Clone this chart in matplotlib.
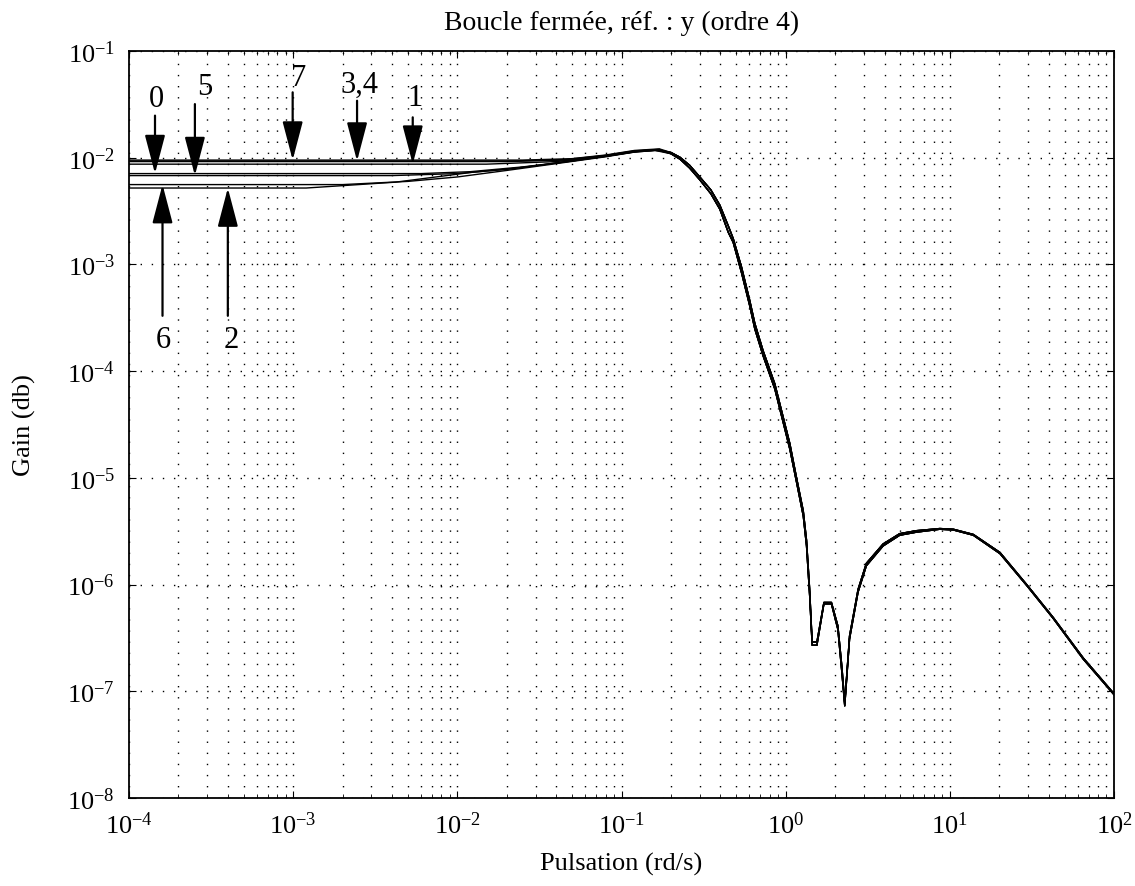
import math
import matplotlib
matplotlib.use("Agg")
import matplotlib.pyplot as plt
from matplotlib.patches import FancyArrowPatch
from matplotlib.ticker import FixedLocator, NullLocator, FuncFormatter, NullFormatter

plt.rcParams['font.family'] = ['Liberation Serif', 'DejaVu Serif']
plt.rcParams['mathtext.fontset'] = 'custom'
plt.rcParams['mathtext.rm'] = 'Liberation Serif'
plt.rcParams['mathtext.it'] = 'Liberation Serif:italic'

# ---------------- data ----------------
title = "Boucle fermée, réf. : y (ordre 4)"
xlabel = "Pulsation (rd/s)"
ylabel = "Gain (db)"
x_ticks = [1e-4, 1e-3, 1e-2, 1e-1, 1e0, 1e1, 1e2]
y_ticks = [1e-8, 1e-7, 1e-6, 1e-5, 1e-4, 1e-3, 1e-2, 1e-1]

# low-frequency part of each curve (rad/s, gain)
w_c0 = [1e-4, 0.006, 0.012, 0.025, 0.05, 0.09, 0.13, 0.17]
g_c0 = [0.0071, 0.0071, 0.0074, 0.0082, 0.0093, 0.0106, 0.0116, 0.0120]
w_c1 = [1e-4, 0.015, 0.04, 0.08, 0.12, 0.16]
g_c1 = [0.0087, 0.0087, 0.0092, 0.0103, 0.0113, 0.0117]
w_c2 = [1e-4, 0.0012, 0.0042, 0.0074, 0.0123, 0.02, 0.03, 0.05, 0.08, 0.12, 0.17]
g_c2 = [0.0052, 0.0052, 0.0059, 0.0066, 0.0073, 0.0078, 0.0084, 0.0094, 0.0105, 0.0116, 0.0119]
w_c3 = [1e-4, 0.02, 0.045, 0.08, 0.12, 0.165]
g_c3 = [0.0093, 0.0093, 0.0096, 0.0105, 0.0115, 0.0119]
w_c4 = [1e-4, 0.02, 0.045, 0.08, 0.12, 0.165]
g_c4 = [0.0092, 0.0092, 0.0095, 0.0104, 0.0114, 0.0118]
w_c5 = [1e-4, 0.004, 0.01, 0.02, 0.04, 0.08, 0.12, 0.17]
g_c5 = [0.0068, 0.0068, 0.0071, 0.0078, 0.0089, 0.0103, 0.0114, 0.0118]
w_c6 = [1e-4, 0.002, 0.005, 0.01, 0.02, 0.04, 0.08, 0.12, 0.16]
g_c6 = [0.0056, 0.0056, 0.0060, 0.0066, 0.0076, 0.0088, 0.0102, 0.0113, 0.0117]
w_c7 = [1e-4, 0.025, 0.05, 0.08, 0.12, 0.17]
g_c7 = [0.0095, 0.0095, 0.0098, 0.0106, 0.0117, 0.0121]

# common high-frequency part (two nearly superposed variants)
tail_w = [0.20, 0.227, 0.26, 0.30, 0.35, 0.397, 0.447, 0.479, 0.538, 0.604,
          0.649, 0.729, 0.859, 0.966, 1.06, 1.165, 1.28, 1.34, 1.40, 1.45,
          1.55, 1.71, 1.90, 2.08, 2.20, 2.29, 2.45, 2.76, 3.10, 3.92,
          4.95, 6.27, 8.69, 10.5, 13.9, 20.2, 29.4, 42.7, 65.0, 100.0]
tail_a = [0.0109, 0.0097, 0.0080, 0.0062, 0.0046, 0.0033, 0.0020, 0.00161, 8.4e-4, 4.1e-4,
          2.48e-4, 1.39e-4, 6.8e-5, 3.3e-5, 1.86e-5, 9.1e-6, 4.4e-6, 2.3e-6, 7.9e-7, 2.7e-7,
          2.7e-7, 6.6e-7, 6.6e-7, 3.8e-7, 1.5e-7, 7.3e-8, 3.1e-7, 8.5e-7, 1.5e-6, 2.3e-6,
          2.9e-6, 3.1e-6, 3.3e-6, 3.25e-6, 2.9e-6, 1.95e-6, 9.8e-7, 4.8e-7, 2.0e-7, 9.3e-8]
tail_b = [0.0112, 0.0101, 0.0085, 0.0066, 0.0050, 0.0036, 0.0023, 0.00175, 9.5e-4, 4.6e-4,
          2.8e-4, 1.55e-4, 7.6e-5, 3.7e-5, 2.1e-5, 1.0e-5, 4.9e-6, 2.6e-6, 9.0e-7, 2.9e-7,
          2.9e-7, 6.8e-7, 6.8e-7, 4.1e-7, 1.7e-7, 7.8e-8, 3.3e-7, 9.0e-7, 1.58e-6, 2.4e-6,
          3.0e-6, 3.2e-6, 3.35e-6, 3.3e-6, 2.95e-6, 2.0e-6, 1.0e-6, 4.9e-7, 2.05e-7, 9.5e-8]

curves = [(w_c0, g_c0, tail_a), (w_c1, g_c1, tail_b), (w_c2, g_c2, tail_a),
          (w_c3, g_c3, tail_b), (w_c4, g_c4, tail_a), (w_c5, g_c5, tail_b),
          (w_c6, g_c6, tail_a), (w_c7, g_c7, tail_b)]

# annotations: label, arrow x, arrow tail gain, arrow tip gain, text x, text y
ann_labels = ["0", "5", "7", "3,4", "1", "6", "2"]
ann_x = [1.44e-4, 2.52e-4, 9.93e-4, 2.45e-3, 5.35e-3, 1.6e-4, 4.0e-4]
ann_tail = [0.0248, 0.0318, 0.041, 0.0342, 0.0239, 3.3e-4, 3.3e-4]
ann_tip = [0.0071, 0.0068, 0.0095, 0.0093, 0.0087, 0.0056, 0.0052]
ann_tx = [1.46e-4, 2.9e-4, 1.08e-3, 2.55e-3, 5.5e-3, 1.61e-4, 4.18e-4]
ann_ty = [0.0355, 0.046, 0.057, 0.049, 0.037, 2.0e-4, 2.0e-4]

# ---------------- figure ----------------
W, H = 1135, 887
fig = plt.figure(figsize=(W / 100, H / 100), dpi=100)
ax = fig.add_axes([129 / W, 1 - 799 / H, (1114 - 129) / W, (799 - 52) / H])
ax.set_xscale('log')
ax.set_yscale('log')
ax.set_xlim(x_ticks[0], x_ticks[-1])
ax.set_ylim(y_ticks[0], y_ticks[-1])

for wl, gl, tail in curves:
    ax.plot(list(wl) + tail_w, list(gl) + tail, color='black', lw=1.0, zorder=3)

x_minor = [m * t for t in x_ticks[:-1] for m in range(2, 10)]
ax.xaxis.set_major_locator(FixedLocator(x_ticks))
ax.xaxis.set_minor_locator(FixedLocator(x_minor))
ax.xaxis.set_minor_formatter(NullFormatter())
ax.yaxis.set_major_locator(FixedLocator(y_ticks))
ax.yaxis.set_minor_locator(NullLocator())

fmt = FuncFormatter(lambda v, p: r'$\mathrm{10^{%d}}$' % round(math.log10(v)))
ax.xaxis.set_major_formatter(fmt)
ax.yaxis.set_major_formatter(fmt)

dot = (0, (1, 7))
ax.grid(True, which='major', axis='both', color='black', linestyle=dot, linewidth=1.0)
ax.grid(True, which='minor', axis='x', color='black', linestyle=dot, linewidth=1.0)

ax.tick_params(which='both', direction='in', top=True, right=True, labelsize=19,
               colors='black')
ax.tick_params(which='major', length=5, width=0.8)
ax.tick_params(which='minor', length=3, width=0.6)
ax.tick_params(axis='x', pad=10)
ax.tick_params(axis='y', pad=10)
for s in ax.spines.values():
    s.set_linewidth(1.3)
    s.set_color('black')

ax.set_title(title, fontsize=20, pad=16)
ax.set_xlabel(xlabel, fontsize=19)
ax.set_ylabel(ylabel, fontsize=19)
ax.xaxis.set_label_coords(0.5, -0.072)
ax.yaxis.set_label_coords(-0.094, 0.5)

for lab, x, yt, yp, tx, ty in zip(ann_labels, ann_x, ann_tail, ann_tip, ann_tx, ann_ty):
    arrow = FancyArrowPatch((x, yt), (x, yp),
                            arrowstyle='-|>,head_length=1.6,head_width=0.42',
                            mutation_scale=15, color='black', lw=1.6,
                            shrinkA=0, shrinkB=0, zorder=5)
    ax.add_patch(arrow)
    ax.text(tx, ty, lab, fontsize=22, ha='center', va='center', zorder=5)

fig.savefig('out.png', dpi=100)
